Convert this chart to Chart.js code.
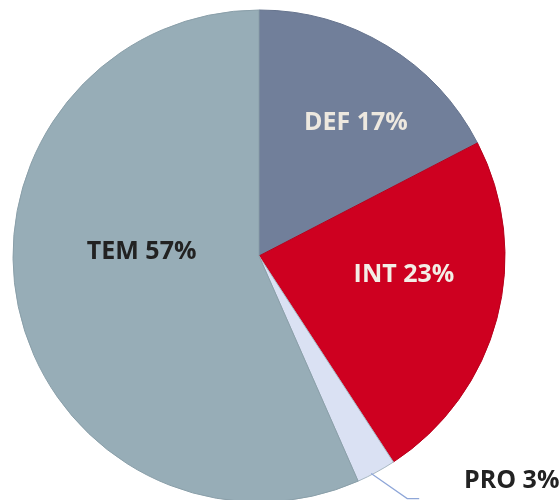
<!DOCTYPE html>
<html>
<head>
<meta charset="utf-8">
<script src="https://cdn.jsdelivr.net/npm/chart.js@4/dist/chart.umd.min.js"></script>
<style>
  html, body { margin: 0; padding: 0; background: #fff; overflow: hidden; }
  #wrap { width: 560px; height: 500px; overflow: hidden; }
</style>
</head>
<body>
<div id="wrap"><canvas id="pieChart" width="560" height="510"></canvas></div>
<script>
// data (slice shares, in percent)
const categories = ['DEF', 'INT', 'PRO', 'TEM'];
const shares = [17.4, 23.4, 2.6, 56.6];

const sliceColors = ['#717F9A', '#CE0020', '#DAE1F3', '#97ADB7'];
const edgeColors = ['#66748e', '#b8001c', '#a7b7c2', '#8a9fa9'];
const labelColors = ['#EDE8DF', '#F3EEE6', '#222222', '#222222'];
// label nudges from the arc centre point
const labelNudge = [[33, -28], [26, -12], [0, 0], [3, -29]];

const labelPlugin = {
    id: 'sliceLabels',
    afterDatasetsDraw(chart) {
        const ctx = chart.ctx;
        const meta = chart.getDatasetMeta(0);
        const total = shares.reduce((a, b) => a + b, 0);
        ctx.save();
        ctx.font = "bold 25px 'Open Sans', sans-serif";
        ctx.textBaseline = 'middle';
        meta.data.forEach((arc, i) => {
            const pct = Math.round(shares[i] / total * 100);
            const text = categories[i] + ' ' + pct + '%';
            if (categories[i] === 'PRO') {
                // outside label with leader line
                const mid = (arc.startAngle + arc.endAngle) / 2;
                const r = arc.outerRadius;
                const x0 = arc.x + Math.cos(mid) * (r - 2);
                const y0 = arc.y + Math.sin(mid) * (r - 2);
                ctx.strokeStyle = '#8EA6D8';
                ctx.lineWidth = 1.2;
                ctx.beginPath();
                ctx.moveTo(x0 - 4, y0 + 3);
                ctx.lineTo(x0 + 32, y0 + 28);
                ctx.lineTo(x0 + 44, y0 + 28);
                ctx.stroke();
                ctx.fillStyle = labelColors[i];
                ctx.textAlign = 'left';
                ctx.fillText(text, 464, 481);
                return;
            }
            const c = arc.getCenterPoint();
            ctx.fillStyle = labelColors[i];
            ctx.textAlign = 'center';
            ctx.fillText(text, c.x + labelNudge[i][0], c.y + labelNudge[i][1]);
        });
        ctx.restore();
    }
};

const ctx = document.getElementById('pieChart').getContext('2d');
new Chart(ctx, {
    type: 'pie',
    data: {
        labels: categories,
        datasets: [{
            data: shares,
            backgroundColor: sliceColors,
            borderColor: edgeColors,
            borderWidth: 1
        }]
    },
    options: {
        responsive: false,
        animation: false,
        layout: { padding: { left: 12.5, right: 54.5, top: 9.5, bottom: 7.5 } },
        plugins: {
            legend: { display: false },
            tooltip: { enabled: false }
        }
    },
    plugins: [labelPlugin]
});
</script>
</body>
</html>
